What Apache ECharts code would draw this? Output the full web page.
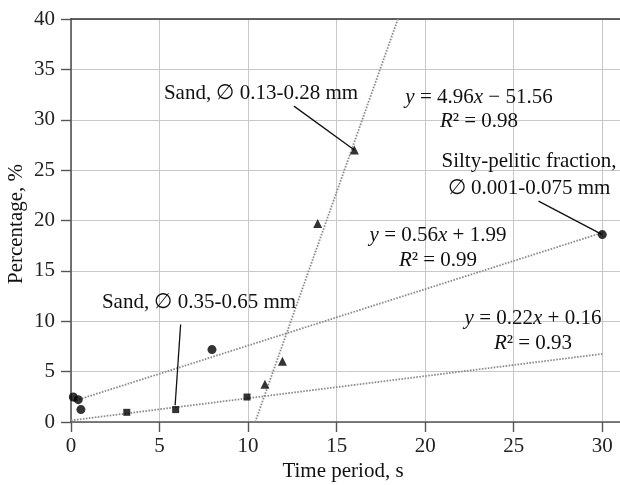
<!DOCTYPE html>
<html><head><meta charset="utf-8">
<script src="https://cdn.jsdelivr.net/npm/echarts@6/dist/echarts.min.js"></script>
<style>html,body{margin:0;padding:0;background:#fff}#c{width:620px;height:485px}</style>
</head><body><div id="c"></div>
<script>
// Data
const siltyPoints = [[0.13,2.48],[0.41,2.22],[0.56,1.23],[7.96,7.19],[30,18.6]];
const sandFinePoints = [[3.15,0.96],[5.91,1.23],[9.94,2.48]];
const sandMidPoints = [[10.95,3.74],[11.94,6.03],[13.93,19.7],[16,27.0]];
const siltyTrend = [[0.13,2.06],[30,18.79]];
const sandFineTrend = [[0,0.16],[30,6.76]];
const sandMidTrend = [[10.4,0],[18.46,40]];
const leaderMid = [[12.59,31.35],[16,27]];
const leaderFine = [[6.19,9.67],[5.88,1.66]];
const leaderSilty = [[26.4,21.92],[30,18.6]];
const xTitle = 'Time period, s';
const yTitle = 'Percentage, %';
const labelMid = 'Sand, \u2205 0.13-0.28 mm';
const labelFine = 'Sand, \u2205 0.35-0.65 mm';
const labelSilty = ['Silty-pelitic fraction,', '\u2205 0.001-0.075 mm'];
const eqMid = ['{i|y} = 4.96{i|x} \u2212 51.56', '{i|R}\u00b2 = 0.98'];
const eqSilty = ['{i|y} = 0.56{i|x} + 1.99', '{i|R}\u00b2 = 0.99'];
const eqFine = ['{i|y} = 0.22{i|x} + 0.16', '{i|R}\u00b2 = 0.93'];

const FONT = '"Liberation Serif", "Times New Roman", serif';
const FS = 21;
const chart = echarts.init(document.getElementById('c'), null, {renderer: 'canvas'});

function txt(text, x, y, extra) {
  return Object.assign({
    type: 'text', x: x, y: y, z: 100,
    style: {
      text: text, fontFamily: FONT, fontSize: FS, fill: '#111',
      align: 'center', verticalAlign: 'middle',
      rich: { i: { fontStyle: 'italic', fontFamily: FONT, fontSize: FS, fill: '#111' } }
    }
  }, extra || {});
}
const trendStyle = { color: '#8c8c8c', width: 1.8, type: [1.6, 1.4] };
const leaderStyle = { color: '#111', width: 1.3, type: 'solid' };
function lineSeries(data, style) {
  return { type: 'line', data: data, showSymbol: false, symbol: 'none', lineStyle: style,
    silent: true, animation: false, z: 2 };
}
function scatter(data, symbol, size) {
  return { type: 'scatter', data: data, symbol: symbol, symbolSize: size,
    itemStyle: { color: '#000' }, animation: false, z: 5 };
}

chart.setOption({
  animation: false,
  backgroundColor: '#fff',
  grid: { left: 71, top: 19, right: -5, bottom: 63, containLabel: false },
  xAxis: [{
    type: 'value', min: 0, max: 31, interval: 5,
    axisLine: { show: true, lineStyle: { color: '#555', width: 1.6 } },
    axisTick: { show: true, length: 10, lineStyle: { color: '#555', width: 1.4 } },
    axisLabel: { fontFamily: FONT, fontSize: FS, color: '#222', margin: 14,
      formatter: v => (v % 5 === 0 ? String(v) : ''), showMaxLabel: false },
    splitLine: { show: true, lineStyle: { color: '#c8c8c8', width: 1 } }
  }, {
    type: 'value', position: 'top', min: 0, max: 31,
    axisLine: { show: true, onZero: false, lineStyle: { color: '#333', width: 1.6 } },
    axisTick: { show: false }, axisLabel: { show: false }, splitLine: { show: false }
  }],
  yAxis: {
    type: 'value', min: 0, max: 40, interval: 5,
    axisLine: { show: true, lineStyle: { color: '#555', width: 1.6 } },
    axisTick: { show: true, length: 10, lineStyle: { color: '#555', width: 1.4 } },
    axisLabel: { fontFamily: FONT, fontSize: FS, color: '#222', margin: 16 },
    splitLine: { show: true, lineStyle: { color: '#c8c8c8', width: 1 } }
  },
  series: [
    lineSeries(siltyTrend, trendStyle),
    lineSeries(sandFineTrend, trendStyle),
    lineSeries(sandMidTrend, trendStyle),
    lineSeries(leaderMid, leaderStyle),
    lineSeries(leaderFine, leaderStyle),
    lineSeries(leaderSilty, leaderStyle),
    scatter(siltyPoints, 'circle', 9),
    scatter(sandFinePoints, 'rect', 7),
    scatter(sandMidPoints, 'triangle', 9)
  ],
  graphic: [
    txt(labelMid, 261, 93),
    txt(eqMid[0], 479, 97), txt(eqMid[1], 479, 121),
    txt(labelSilty[0], 529, 161), txt(labelSilty[1], 529, 188),
    txt(eqSilty[0], 438, 235), txt(eqSilty[1], 438, 260),
    txt(eqFine[0], 533, 318), txt(eqFine[1], 533, 343),
    txt(labelFine, 199, 302),
    txt(xTitle, 343, 471),
    txt(yTitle, 16, 224, { rotation: Math.PI / 2 })
  ]
});
</script></body></html>
